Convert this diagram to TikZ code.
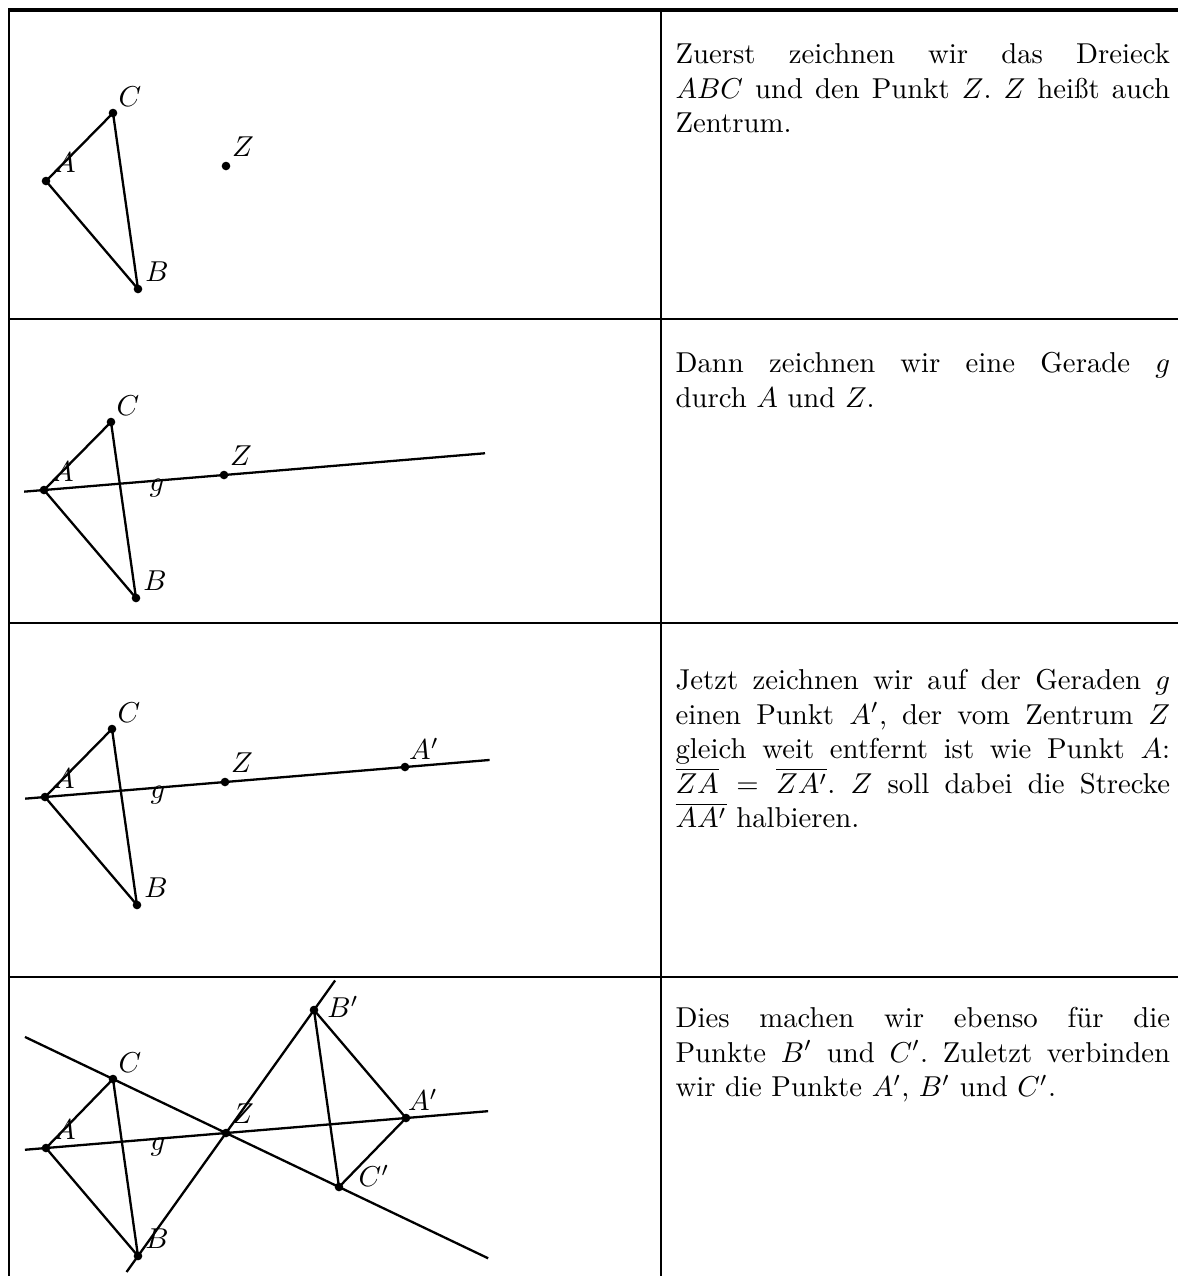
\documentclass[tikz,border=0pt]{standalone}
\usepackage{fontspec}
\usetikzlibrary{calc}
\begin{document}
\begin{tikzpicture}[x=0.3478pt,y=-0.3478pt,
  dot/.style={circle,fill=black,inner sep=0pt,minimum size=3pt},
  geo/.style={line width=0.8pt},
  rule/.style={line width=1pt},
  toprule/.style={line width=1.4pt},
  lbl/.style={inner sep=0pt},
  txt/.style={anchor=north west,inner sep=0pt,text width=172pt,align=justify,
    execute at begin node={\hyphenpenalty=10000 \exhyphenpenalty=10000 \tolerance=10000 \frenchspacing}}]
\useasboundingbox (0,0) rectangle (1178,1276);
% table
\draw[toprule] (8,10) -- (1178,10);
\draw[rule] (9,10) -- (9,1276);
\draw[rule] (661,10) -- (661,1276);
\draw[rule] (9,319) -- (1178,319);
\draw[rule] (9,623) -- (1178,623);
\draw[rule] (9,977) -- (1178,977);
% row 1
\node[dot] (A1) at (46,181) {};
\node[dot] (C1) at (113,113) {};
\node[dot] (B1) at (138,289) {};
\node[dot] (Z1) at (226,166) {};
\draw[geo] (A1.center) -- (C1.center) -- (B1.center) -- (A1.center);
\node[lbl] (lA1) at ($(A1)+(19,-18)$) {$A$};
\node[lbl] (lC1) at ($(C1)+(17,-16)$) {$C$};
\node[lbl] (lB1) at ($(B1)+(19,-17)$) {$B$};
\node[lbl] (lZ1) at ($(Z1)+(17,-19)$) {$Z$};
\node[txt] (t1) at (675,43) {Zuerst zeichnen wir das Dreieck\linebreak $ABC$ und den Punkt $Z$. $Z$ heißt auch\linebreak Zentrum.};
% row 2
\node[dot] (A2) at (44,490) {};
\node[dot] (C2) at (111,422) {};
\node[dot] (B2) at (136,598) {};
\node[dot] (Z2) at (224,475) {};
\draw[geo] (A2.center) -- (C2.center) -- (B2.center) -- (A2.center);
\draw[geo] ($(A2.center)!-0.11!(Z2.center)$) -- ($(A2.center)!2.45!(Z2.center)$);
\node[lbl] (lA2) at ($(A2)+(19,-18)$) {$A$};
\node[lbl] (lC2) at ($(C2)+(17,-16)$) {$C$};
\node[lbl] (lB2) at ($(B2)+(19,-17)$) {$B$};
\node[lbl] (lZ2) at ($(Z2)+(17,-19)$) {$Z$};
\node[lbl] (lg2) at ($(A2)+(113,-2)$) {$g$};
\node[txt] (t2) at (675,352) {Dann zeichnen wir eine Gerade $g$\linebreak durch $A$ und $Z$.};
% row 3
\node[dot] (A3) at (45,797) {};
\node[dot] (C3) at (112,729) {};
\node[dot] (B3) at (137,905) {};
\node[dot] (Z3) at (225,782) {};
\node[dot] (Ap3) at ($(A3)!2!(Z3)$) {};
\draw[geo] (A3.center) -- (C3.center) -- (B3.center) -- (A3.center);
\draw[geo] ($(A3.center)!-0.11!(Z3.center)$) -- ($(A3.center)!2.47!(Z3.center)$);
\node[lbl] (lA3) at ($(A3)+(19,-18)$) {$A$};
\node[lbl] (lC3) at ($(C3)+(17,-16)$) {$C$};
\node[lbl] (lB3) at ($(B3)+(19,-17)$) {$B$};
\node[lbl] (lZ3) at ($(Z3)+(17,-19)$) {$Z$};
\node[lbl] (lg3) at ($(A3)+(113,-2)$) {$g$};
\node[lbl] (lAp3) at ($(Ap3)+(19,-18)$) {$A'$};
\node[txt] (t3) at (675,669) {Jetzt zeichnen wir auf der Geraden $g$\linebreak einen Punkt $A'$, der vom Zentrum $Z$\linebreak gleich weit entfernt ist wie Punkt $A$:\linebreak $\overline{ZA}=\overline{ZA'}$. $Z$ soll dabei die Strecke\linebreak $\overline{AA'}$ halbieren.};
% row 4
\node[dot] (A4) at (46,1148) {};
\node[dot] (C4) at (113,1079) {};
\node[dot] (B4) at (138,1256) {};
\node[dot] (Z4) at (226,1133) {};
\node[dot] (Ap4) at ($(A4)!2!(Z4)$) {};
\node[dot] (Bp4) at ($(B4)!2!(Z4)$) {};
\node[dot] (Cp4) at ($(C4)!2!(Z4)$) {};
\draw[geo] (A4.center) -- (C4.center) -- (B4.center) -- (A4.center);
\draw[geo] (Ap4.center) -- (Cp4.center) -- (Bp4.center) -- (Ap4.center);
\draw[geo] ($(A4.center)!-0.117!(Z4.center)$) -- ($(A4.center)!2.456!(Z4.center)$);
\draw[geo] ($(C4.center)!-0.779!(Z4.center)$) -- ($(C4.center)!3.32!(Z4.center)$);
\draw[geo] ($(B4.center)!-0.13!(Z4.center)$) -- ($(B4.center)!2.24!(Z4.center)$);
\node[lbl] (lA4) at ($(A4)+(19,-18)$) {$A$};
\node[lbl] (lC4) at ($(C4)+(17,-16)$) {$C$};
\node[lbl] (lB4) at ($(B4)+(19,-17)$) {$B$};
\node[lbl] (lZ4) at ($(Z4)+(17,-19)$) {$Z$};
\node[lbl] (lg4) at ($(A4)+(112,-1)$) {$g$};
\node[lbl] (lAp4) at ($(Ap4)+(17,-18)$) {$A'$};
\node[lbl] (lBp4) at ($(Bp4)+(29,-3)$) {$B'$};
\node[lbl] (lCp4) at ($(Cp4)+(35,-11)$) {$C'$};
\node[txt] (t4) at (675,1007) {Dies machen wir ebenso für die\linebreak Punkte $B'$ und $C'$. Zuletzt verbinden\linebreak wir die Punkte $A'$, $B'$ und $C'$.};
\end{tikzpicture}
\end{document}
